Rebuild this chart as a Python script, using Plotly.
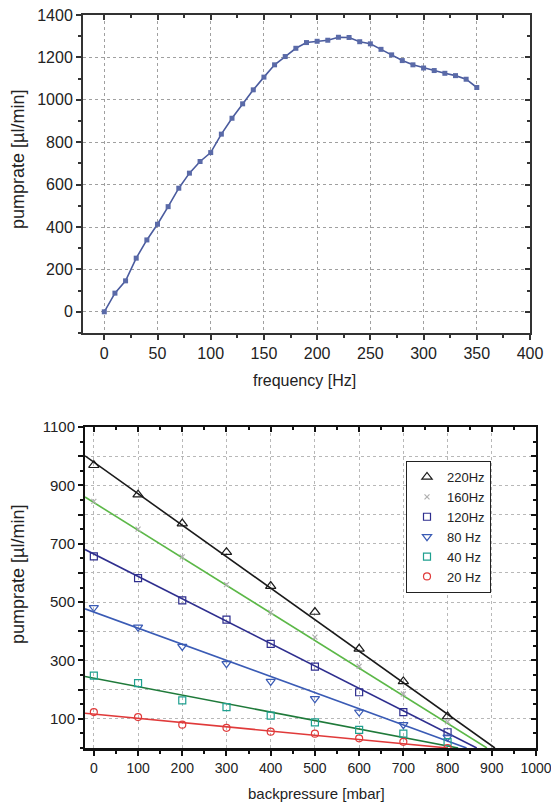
import plotly.graph_objects as go

# ---- top chart data ----
freq = list(range(0, 360, 10))
pumprate = [0, 88, 146, 253, 339, 413, 496, 583, 654, 709, 751, 838, 913, 981,
            1047, 1107, 1165, 1204, 1243, 1270, 1276, 1281, 1295, 1294, 1274,
            1264, 1238, 1212, 1185, 1165, 1150, 1138, 1125, 1114, 1097, 1058]
top_xticks = [0, 50, 100, 150, 200, 250, 300, 350, 400]
top_yticks = [0, 200, 400, 600, 800, 1000, 1200, 1400]

# ---- bottom chart data ----
bp = [0, 100, 200, 300, 400, 500, 600, 700, 800]
series_names = ["220Hz", "160Hz", "120Hz", "80 Hz", "40 Hz", "20 Hz"]
p220 = [969, 868, 769, 671, 555, 466, 340, 228, 108]
p160 = [845, 750, 655, 560, 465, 380, 280, 185, 90]
p120 = [657, 582, 506, 440, 357, 279, 191, 123, 54]
p80 = [481, 414, 348, 289, 228, 169, 123, 80, 37]
p40 = [248, 222, 163, 140, 111, 88, 62, 49, 20]
p20 = [123, 106, 80, 69, 56, 49, 33, 21, 0]
# fit line endpoints (x0, y0) -> (x1, 0)
fit_x0 = -20
fit_y0 = [1001, 860, 680, 477, 245, 119]
fit_x1 = [907, 889, 866, 843, 824, 801]
bot_xticks = [0, 100, 200, 300, 400, 500, 600, 700, 800, 900, 1000]
bot_yticks = [100, 200, 300, 400, 500, 600, 700, 800, 900, 1000, 1100]
bot_yticktext = ["100", "", "300", "", "500", "", "700", "", "900", "", "1100"]

marker_symbols = ["triangle-up-open", "x-thin-open", "square-open",
                  "triangle-down-open", "square-open", "circle-open"]
marker_colors = ["#1a1a1a", "#b0b0b0", "#2e2e8e", "#3a5bb5", "#1fa090", "#e03a3a"]
line_colors = ["#1a1a1a", "#5cb848", "#2e2e8e", "#3a5bb5", "#1f7a3a", "#e03a3a"]
marker_sizes = [9, 5, 7, 8, 7, 7]
series_vals = [p220, p160, p120, p80, p40, p20]

# page body has an 8px margin; figure is sized to fit inside the window
OFF = 8
W, H = 559 - OFF, 805 - OFF


def px(x):
    return (x - OFF) / W


def py(y):
    return 1 - (y - OFF) / H


fig = go.Figure()

fig.add_trace(go.Scatter(
    x=freq, y=pumprate, mode="lines+markers", xaxis="x", yaxis="y",
    line=dict(color="#4a5b9e", width=1.6),
    marker=dict(symbol="square", size=5, color="#5a6aa8"),
    showlegend=False))

for i in range(6):
    fig.add_trace(go.Scatter(
        x=[fit_x0, fit_x1[i]], y=[fit_y0[i], 0], mode="lines",
        xaxis="x2", yaxis="y2", line=dict(color=line_colors[i], width=1.6),
        showlegend=False, hoverinfo="skip"))

for i in range(6):
    fig.add_trace(go.Scatter(
        x=bp, y=series_vals[i], mode="markers", name=series_names[i],
        xaxis="x2", yaxis="y2",
        marker=dict(symbol=marker_symbols[i], size=marker_sizes[i],
                    color=marker_colors[i], line=dict(width=1.2, color=marker_colors[i]))))

# invisible traces so the mirrored (inside-tick) frame axes render
fig.add_trace(go.Scatter(x=[top_xticks[0]], y=[top_yticks[0]], xaxis="x3", yaxis="y3",
                         mode="markers", marker=dict(opacity=0), showlegend=False,
                         hoverinfo="skip"))
fig.add_trace(go.Scatter(x=[bot_xticks[0]], y=[bot_yticks[0]], xaxis="x4", yaxis="y4",
                         mode="markers", marker=dict(opacity=0), showlegend=False,
                         hoverinfo="skip"))

font_family = "Liberation Sans, Arial, sans-serif"
tick_col = "#222222"
grid_col = "#a0a0a0"

top_x = [px(83), px(530)]
top_y = [py(333), py(15)]
bot_x = [px(85), px(536)]
bot_y = [py(748), py(427)]

fig.update_layout(
    width=W, height=H, margin=dict(l=0, r=0, t=0, b=0, autoexpand=False),
    paper_bgcolor="white", plot_bgcolor="white",
    font=dict(family=font_family, color=tick_col),
    xaxis=dict(domain=top_x, anchor="y", range=[-20, 400], automargin=False,
               tickvals=top_xticks, ticklabeloverflow="allow",
               ticks="outside", ticklen=5, tickwidth=1.5, tickcolor="#333",
               minor=dict(dtick=25, ticks="outside", ticklen=3, tickcolor="#333", showgrid=False),
               showline=True, linecolor="#333", linewidth=2,
               showgrid=True, gridcolor=grid_col, griddash="dot", gridwidth=1,
               tickfont=dict(size=16), zeroline=False),
    yaxis=dict(domain=top_y, anchor="x", range=[-100, 1400], automargin=False,
               tickvals=top_yticks, ticklabeloverflow="allow",
               ticks="outside", ticklen=5, tickwidth=1.5, tickcolor="#333",
               minor=dict(dtick=100, ticks="outside", ticklen=3, tickcolor="#333", showgrid=False),
               showline=True, linecolor="#333", linewidth=2,
               showgrid=True, gridcolor=grid_col, griddash="dot", gridwidth=1,
               tickfont=dict(size=16), zeroline=False),
    xaxis3=dict(overlaying="x", anchor="y3", side="top", range=[-20, 400], automargin=False,
                tickvals=top_xticks,
                ticks="inside", ticklen=5, tickwidth=1.5, tickcolor="#333",
                minor=dict(dtick=25, ticks="inside", ticklen=3, tickcolor="#333"),
                showline=True, linecolor="#333", linewidth=2,
                showticklabels=False, showgrid=False, zeroline=False),
    yaxis3=dict(overlaying="y", anchor="x3", side="right", range=[-100, 1400], automargin=False,
                tickvals=top_yticks,
                ticks="inside", ticklen=5, tickwidth=1.5, tickcolor="#333",
                minor=dict(dtick=100, ticks="inside", ticklen=3, tickcolor="#333"),
                showline=True, linecolor="#333", linewidth=2,
                showticklabels=False, showgrid=False, zeroline=False),
    xaxis2=dict(domain=bot_x, anchor="y2", range=[-20, 1000], automargin=False,
                tickvals=bot_xticks, ticklabeloverflow="allow",
                ticks="outside", ticklen=5, tickwidth=1.5, tickcolor="#111",
                minor=dict(dtick=50, ticks="outside", ticklen=3, tickcolor="#111", showgrid=False),
                showline=True, linecolor="#111", linewidth=3,
                showgrid=True, gridcolor="#b8b8b8", griddash="dot", gridwidth=1,
                tickfont=dict(size=14), zeroline=False),
    yaxis2=dict(domain=bot_y, anchor="x2", range=[0, 1100], automargin=False,
                tickvals=bot_yticks, ticktext=bot_yticktext, ticklabeloverflow="allow",
                ticks="outside", ticklen=5, tickwidth=1.5, tickcolor="#111",
                minor=dict(dtick=50, ticks="outside", ticklen=3, tickcolor="#111", showgrid=False),
                showline=True, linecolor="#111", linewidth=2,
                showgrid=True, gridcolor="#b8b8b8", griddash="dot", gridwidth=1,
                tickfont=dict(size=15), zeroline=False),
    xaxis4=dict(overlaying="x2", anchor="y4", side="top", range=[-20, 1000], automargin=False,
                tickvals=bot_xticks,
                ticks="inside", ticklen=5, tickwidth=1.5, tickcolor="#111",
                minor=dict(dtick=50, ticks="inside", ticklen=3, tickcolor="#111"),
                showline=True, linecolor="#111", linewidth=2,
                showticklabels=False, showgrid=False, zeroline=False),
    yaxis4=dict(overlaying="y2", anchor="x4", side="right", range=[0, 1100], automargin=False,
                tickvals=bot_yticks,
                ticks="inside", ticklen=5, tickwidth=1.5, tickcolor="#111",
                minor=dict(dtick=50, ticks="inside", ticklen=3, tickcolor="#111"),
                showline=True, linecolor="#111", linewidth=2,
                showticklabels=False, showgrid=False, zeroline=False),
    legend=dict(x=px(406), y=py(461), xanchor="left", yanchor="top",
                bgcolor="white", bordercolor="#222", borderwidth=1,
                font=dict(size=13, color="#222"), tracegroupgap=0,
                itemwidth=30),
    annotations=[
        dict(text="pumprate [µl/min]", x=px(18), y=py(160), xref="paper", yref="paper",
             textangle=-90, showarrow=False, font=dict(size=18, color="#222"),
             xanchor="center", yanchor="middle"),
        dict(text="frequency [Hz]", x=px(304), y=py(380), xref="paper", yref="paper",
             showarrow=False, font=dict(size=16, color="#222"),
             xanchor="center", yanchor="middle"),
        dict(text="pumprate [µl/min]", x=px(18), y=py(575), xref="paper", yref="paper",
             textangle=-90, showarrow=False, font=dict(size=18, color="#222"),
             xanchor="center", yanchor="middle"),
        dict(text="backpressure [mbar]", x=px(316), y=py(793), xref="paper", yref="paper",
             showarrow=False, font=dict(size=15, color="#222"),
             xanchor="center", yanchor="middle"),
    ],
)

fig.write_html("out.html")
